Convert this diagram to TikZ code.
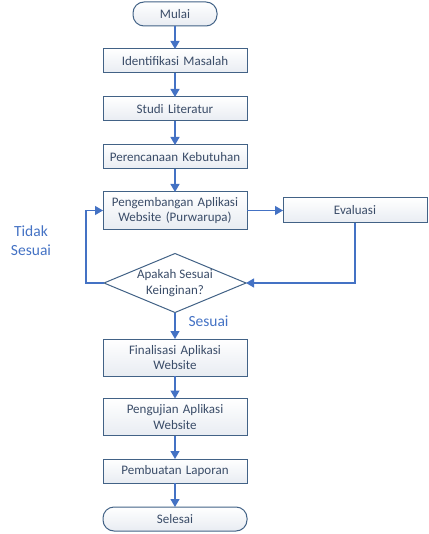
\documentclass[tikz,border=0pt]{standalone}
\usepackage{fontspec}
\setmainfont{Carlito}
\usepackage{xcolor}
\usepackage{tikz}
\usetikzlibrary{shapes,arrows.meta,positioning,calc}
\definecolor{boxline}{RGB}{66,98,134}
\definecolor{boxtext}{RGB}{58,76,104}
\definecolor{boxfill}{RGB}{232,236,242}
\definecolor{flowblue}{RGB}{68,114,196}
\tikzset{
    proses/.style={
        rectangle,
        draw=boxline,
        line width=1pt,
        outer sep=0pt,
        top color=white,
        bottom color=boxfill,
        minimum width=144pt,
        minimum height=24pt,
        text width=140pt,
        inner sep=1pt,
        align=center,
        text=boxtext,
        font=\fontsize{13}{15.5}\selectfont
    },
    terminal/.style={
        proses,
        rounded corners=11pt
    },
    keputusan/.style={
        diamond,
        draw=boxline,
        line width=1pt,
        outer sep=0pt,
        fill=white,
        shape aspect=2.4,
        inner sep=0pt,
        minimum width=142pt,
        minimum height=59pt,
        align=center,
        text=boxtext,
        font=\fontsize{13}{15.5}\selectfont
    },
    alur/.style={
        draw=flowblue,
        line width=1.2pt,
        -{Triangle[width=9pt,length=8pt]}
    },
    ket/.style={
        text=flowblue,
        align=center,
        font=\fontsize{15.5}{19}\selectfont
    }
}

\begin{document}
\begin{tikzpicture}[x=1pt,y=-1pt]
\useasboundingbox (0,0) rectangle (428,534);

% alur utama
\node[terminal, minimum width=84pt, text width=80pt] (mulai) at (175,14) {Mulai};
\node[proses] (identifikasi) at (175,61) {Identifikasi Masalah};
\node[proses] (studi) at (175,109) {Studi Literatur};
\node[proses] (perencanaan) at (175,157) {Perencanaan Kebutuhan};
\node[proses, minimum height=37pt] (pengembangan) at (175,210.5) {Pengembangan Aplikasi\\Website (Purwarupa)};
\node[proses, minimum height=25pt, right=36pt of pengembangan] (evaluasi) {Evaluasi};
\node[keputusan] (cek) at (175,283) {Apakah Sesuai\\Keinginan?};
\node[proses, minimum height=37pt] (finalisasi) at (175,357.5) {Finalisasi Aplikasi\\Website};
\node[proses, minimum height=37pt] (pengujian) at (175,417) {Pengujian Aplikasi\\Website};
\node[proses] (laporan) at (175,471) {Pembuatan Laporan};
\node[terminal] (selesai) at (175,519) {Selesai};

% keterangan
\node[ket] (tidak) at (31,241) {Tidak\\Sesuai};
\node[ket, anchor=west] (sesuai) at (185,321) {Sesuai};

\coordinate (kiri) at (86,283);

\draw[alur] (mulai) -- (identifikasi);
\draw[alur] (identifikasi) -- (studi);
\draw[alur] (studi) -- (perencanaan);
\draw[alur] (perencanaan) -- (pengembangan);
\draw[alur] (pengembangan) -- (evaluasi);
\draw[alur] (evaluasi.south) |- (cek.east);
\draw[alur] (cek.west) -- (kiri) |- (pengembangan.west);
\draw[alur] (cek) -- (finalisasi);
\draw[alur] (finalisasi) -- (pengujian);
\draw[alur] (pengujian) -- (laporan);
\draw[alur] (laporan) -- (selesai);
\end{tikzpicture}
\end{document}
